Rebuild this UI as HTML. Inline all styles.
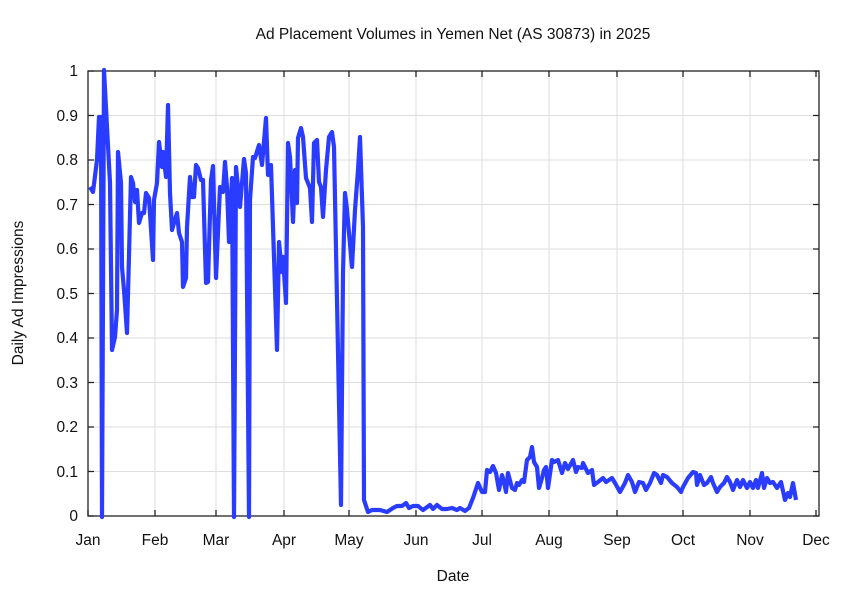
<!DOCTYPE html>
<html><head><meta charset="utf-8"><style>body{margin:0;background:#fff}svg{display:block}text{font-family:"Liberation Sans",Arial,sans-serif;font-size:15.5px;fill:#111}</style></head><body>
<svg width="846" height="594" viewBox="0 0 846 594">
<g stroke="#dedede" stroke-width="1">
<line x1="88" y1="471.5" x2="819" y2="471.5"/><line x1="88" y1="427" x2="819" y2="427"/><line x1="88" y1="382.5" x2="819" y2="382.5"/><line x1="88" y1="338" x2="819" y2="338"/><line x1="88" y1="293.5" x2="819" y2="293.5"/><line x1="88" y1="249" x2="819" y2="249"/><line x1="88" y1="204.5" x2="819" y2="204.5"/><line x1="88" y1="160" x2="819" y2="160"/><line x1="88" y1="115.5" x2="819" y2="115.5"/>
<line x1="155" y1="71" x2="155" y2="516"/><line x1="216" y1="71" x2="216" y2="516"/><line x1="284" y1="71" x2="284" y2="516"/><line x1="349" y1="71" x2="349" y2="516"/><line x1="416" y1="71" x2="416" y2="516"/><line x1="482" y1="71" x2="482" y2="516"/><line x1="549" y1="71" x2="549" y2="516"/><line x1="617" y1="71" x2="617" y2="516"/><line x1="683" y1="71" x2="683" y2="516"/><line x1="750" y1="71" x2="750" y2="516"/>
</g>
<g stroke="#222" stroke-width="1.3">
<path d="M88 516h6M88 471.5h6M88 427h6M88 382.5h6M88 338h6M88 293.5h6M88 249h6M88 204.5h6M88 160h6M88 115.5h6M88 71h6"/>
<path d="M819 516h-6M819 471.5h-6M819 427h-6M819 382.5h-6M819 338h-6M819 293.5h-6M819 249h-6M819 204.5h-6M819 160h-6M819 115.5h-6M819 71h-6"/>
<path d="M88 516v-6M155 516v-6M216 516v-6M284 516v-6M349 516v-6M416 516v-6M482 516v-6M549 516v-6M617 516v-6M683 516v-6M750 516v-6M816 516v-6"/>
<path d="M155 71v6M216 71v6M284 71v6M349 71v6M416 71v6M482 71v6M549 71v6M617 71v6M683 71v6M750 71v6M816 71v6"/>
<rect x="88" y="71" width="731" height="445" fill="none"/>
</g>
<polyline fill="none" stroke="#2a3cff" stroke-width="4.2" stroke-linejoin="round" points="90,187 93,192 97,160 99,117 101,117 102,517 104,70 107,127 110,183 112,350 115,337 117,310 118,152 121,183 122,267 124,290 127,333 131,177 133,183 135,202 137,190 139,223 142,213 144,213 146,193 149,198 153,260 154,200 157,183 159,142 162,167 163,152 166,177 168,105 170,193 172,230 174,223 177,213 179,233 182,242 183,287 186,278 187,227 190,177 192,197 194,197 196,165 198,168 201,180 203,180 206,283 208,282 211,180 213,166 216,278 220,187 223,192 225,162 227,187 229,242 232,178 234,517 236,167 240,207 244,159 246,173 249,517 250,200 253,157 255,158 259,145 262,165 266,118 268,175 271,165 277,350 279,242 282,272 283,257 286,303 288,143 290,157 293,222 295,170 297,203 298,138 301,128 303,137 306,178 310,188 312,222 314,143 317,140 319,182 321,187 323,217 326,170 329,137 332,132 334,147 341,505 343,273 345,193 347,210 352,267 355,210 358,170 360,137 363,227 364,500 368,512 372,510 380,510 387,512 393,508 397,506 402,506 406,503 409,508 413,506 418,506 423,510 430,505 433,509 437,505 442,509 447,509 452,508 457,510 460,508 465,511 469,508 473,498 478,483 482,492 485,492 487,470 490,472 493,466 496,473 499,490 502,475 504,482 506,492 508,473 512,488 515,490 517,483 519,485 522,480 524,482 527,460 530,457 532,447 534,462 537,467 539,488 542,478 544,470 546,467 548,488 552,460 554,462 558,460 562,473 565,463 568,469 573,460 576,472 578,467 582,468 583,463 588,473 592,470 594,485 598,482 603,478 606,482 612,478 615,483 620,492 625,483 628,475 632,482 635,492 639,482 643,483 646,490 650,483 654,473 657,475 661,483 663,475 667,477 672,483 677,487 681,492 683,487 688,478 693,472 696,473 697,485 700,475 704,485 707,483 711,477 713,483 717,492 720,487 724,483 727,477 730,482 733,490 737,480 740,487 743,480 747,488 750,482 753,488 756,480 758,488 762,473 764,488 767,478 770,483 773,482 777,488 781,482 785,500 788,493 790,497 793,483 796,500"/>
<g text-anchor="end">
<text x="78" y="521">0</text><text x="78" y="477">0.1</text><text x="78" y="432">0.2</text><text x="78" y="388">0.3</text><text x="78" y="343">0.4</text><text x="78" y="299">0.5</text><text x="78" y="254">0.6</text><text x="78" y="210">0.7</text><text x="78" y="165">0.8</text><text x="78" y="121">0.9</text><text x="78" y="76">1</text>
</g>
<g text-anchor="middle">
<text x="88" y="545">Jan</text><text x="155" y="545">Feb</text><text x="216" y="545">Mar</text><text x="284" y="545">Apr</text><text x="349" y="545">May</text><text x="416" y="545">Jun</text><text x="482" y="545">Jul</text><text x="549" y="545">Aug</text><text x="617" y="545">Sep</text><text x="683" y="545">Oct</text><text x="750" y="545">Nov</text><text x="816" y="545">Dec</text>
<text x="453" y="581">Date</text>
<text x="453" y="39">Ad Placement Volumes in Yemen Net (AS 30873) in 2025</text>
<text x="23" y="293" transform="rotate(-90 23 293)">Daily Ad Impressions</text>
</g>
</svg></body></html>
